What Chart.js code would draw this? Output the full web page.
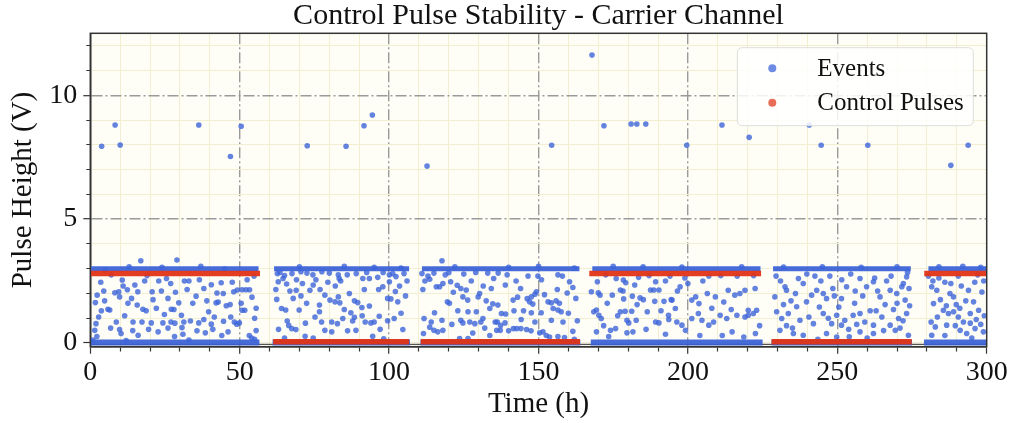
<!DOCTYPE html>
<html>
<head>
<meta charset="utf-8">
<title>Control Pulse Stability - Carrier Channel</title>
<script src="https://cdn.jsdelivr.net/npm/chart.js@4.4.1/dist/chart.umd.min.js"></script>
<style>
  html, body { margin: 0; padding: 0; background: #ffffff; }
  #chart { display: block; }
</style>
</head>
<body>
<canvas id="chart" width="1013" height="423"></canvas>
<script>
// axis ticks
const xTickValues = [0, 10, 20, 30, 40, 50, 60, 70, 80, 90, 100, 110, 120, 130, 140, 150,
  160, 170, 180, 190, 200, 210, 220, 230, 240, 250, 260, 270, 280, 290, 300];
const xLabelTicks = [0, 50, 100, 150, 200, 250, 300];
const yTickValues = [0, 1, 2, 3, 4, 5, 6, 7, 8, 9, 10, 11, 12];
const yLabelTicks = [0, 5, 10];

// control pulse runs: [start h, end h, level V]
const controlRuns = [
  [0.2, 56.8, 2.8], [61.2, 106.7, 0.05], [110.6, 163.9, 0.05],
  [167, 224.5, 2.8], [228, 274.9, 0.05], [279.1, 300, 2.8]
];

// dense event bands (saturated ~3 V and zero-height events): [start h, end h]
const eventTopRuns = [[0.3, 56.3], [61.5, 106.7], [111, 163.7], [168, 224.3], [228.5, 274.6], [280.5, 300]];
const eventZeroRuns = [[0, 56.6], [61, 107], [110.5, 164], [167.5, 225], [228, 275], [279, 300]];
const topLevel = 3.0;
const zeroLevel = 0.02;
const baselineRun = [[0, 300]];
const baselineLevel = -0.06;

// scattered events per run: [time h, height V]
const eventsRun1 = [
  [3.5,2.45],[10.7,2.54],[14.9,2.34],[18.2,2.5],[22.9,2.5],[26.9,2.4],[2.3,1.93],[8.2,2.03],[9.5,2.07],
  [12.4,2.15],[15.9,2.07],[20.7,2.07],[23.8,2.1],[26,1.8],[1.7,1.63],[4.8,1.7],[9.8,1.86],[12.6,1.6],
  [15.7,1.53],[5.9,1.36],[6.5,1.33],[3.7,1.3],[17.6,1.36],[18.7,1.3],[22.1,1.4],[27.1,1.36],[1.9,0.78],
  [8.7,0.85],[14.3,0.85],[17.3,0.85],[20.4,0.81],[24.3,0.81],[27,0.85],[1.5,0.51],[9.8,0.54],[10.3,0.38],
  [16,0.31],[22.7,0.45],[2.2,0.26],[28.2,0.26],[32.4,2.16],[40.5,2.35],[43.8,2.43],[35.4,1.89],[42.4,2.02],
  [48,2.07],[49.2,2.14],[50.8,2.15],[52.1,2.15],[53.3,2.15],[54.1,1.85],[29.6,1.62],[34.3,1.6],[42.1,1.62],
  [42.8,1.65],[50.5,1.6],[28,1.35],[30.5,1.12],[39.6,1.26],[50.8,1.32],[51.7,1.32],[31.3,0.85],[33.5,0.89],
  [36.3,0.81],[40.5,0.76],[44.6,0.88],[48.2,0.85],[49,0.76],[49.9,0.81],[28.3,0.8],[30.7,0.62],[35.7,0.49],
  [38.5,0.41],[46.1,0.45],[53.2,0.3],[54,0.2],[16.9,3.32],[29,3.35],[5,2.95],[13,3.08],[24,3.05],[37,3.1],
  [45,2.98],[0.8,0.12],[12,0.1],[33,0.12],[55,0.15],[24.8,1.15],[11.5,1.1],[45.5,1.5],[47,1.05],[38,2.2],
  [36.5,2.55],[44.5,2.0],[46.8,1.55],[41.5,1.05],[25.5,2.6],[7,2.75],[19,2.72],[33,2.5],[2.8,1.05],
  [6.8,0.6],[19.5,0.55],[26,0.6],[38,0.95],[44,0.3],[13.8,1.8],[55,1.0],[55.5,0.5],
  [4.5,2.1],[11,2.3],[21,1.75],[28.5,2.05],[31.5,2.5],[39,1.7],[47.5,2.45],[52.5,2.55],[54.8,2.7],
  [55.5,1.4],[31,0.35],[41,0.55],[14.2,0.5]
];
const eventsRun2 = [
  [62.9,2.47],[62.1,2.16],[65.7,2.38],[66.8,2.1],[67.9,1.8],[68.9,2.13],[73.5,2.13],[74.6,2.34],[76.9,2.16],
  [78.5,1.93],[80.2,1.73],[83,1.86],[62.4,1.76],[64,1.39],[65.4,1.33],[69.9,1.33],[72.4,1.6],[76.7,1.53],
  [76.7,1.26],[81.9,1.66],[65.9,0.89],[66.4,0.71],[67.4,0.58],[68.8,0.54],[77.4,0.85],[78.5,0.51],[80.8,0.85],
  [80.8,0.45],[82.7,0.78],[71.9,0.27],[74.6,0.2],[65,0.2],[62.6,2.8],[63.5,2.85],[65,2.72],[67.5,2.8],
  [70.5,2.88],[72.5,2.82],[74.5,2.75],[77.5,2.88],[80,2.82],[83,2.75],[83.3,2.6],[91.2,2.6],[93.4,2.6],
  [96.2,2.65],[100.1,2.75],[101.2,2.8],[102.3,2.68],[83.8,2.5],[86.7,2.0],[91.7,2.16],[96.5,2.16],[97.9,2.27],
  [100.1,2.47],[102.1,2.08],[99.5,1.8],[100.6,1.78],[102.9,1.66],[83.5,1.62],[88.4,1.7],[89.5,1.63],[93.4,1.49],
  [90.9,1.43],[84.5,0.99],[87.2,1.22],[88.4,1.04],[87.8,0.89],[92,0.85],[93.9,0.81],[95,0.85],[96.7,1.08],
  [101.7,0.99],[88.9,0.51],[86.1,0.49],[104.6,0.54],[94.5,0.27],[98.2,0.17],[70,3.08],[85,3.1],[95,3.05],[104,3.02],
  [64.5,2.6],[69,2.55],[71,2.4],[75.5,2.55],[79.5,2.45],[82,2.3],[86,2.75],[89,2.8],[92.5,2.85],[98,2.85],
  [105,2.8],[103.5,2.3],[105.5,1.9],[104,1.2],[85,1.35],[91,1.1],[97,0.55],[99.5,0.9],[70.5,1.9],[72,0.8],
  [75.2,1.05],[63,0.55],[106,2.5]
];
const eventsRun3 = [
  [117.7,3.32],[111,2.8],[113,2.7],[115,2.82],[120,2.84],[125,2.78],[129,2.85],[133,2.82],[136.5,2.82],
  [111.3,2.16],[113.6,2.57],[115.8,2.27],[116.9,2.27],[118,2.4],[120.6,2.47],[122.8,2.33],[124,2.2],[125.8,2.14],
  [124.7,1.86],[126.3,1.73],[129.8,1.86],[130.3,2.0],[134.2,2.2],[119.5,1.66],[120.2,1.6],[123,1.3],[126.4,1.26],
  [129.2,1.26],[133.7,1.39],[134.7,1.58],[136.4,1.53],[111.7,0.99],[114.1,0.85],[115.2,1.22],[117.7,0.92],
  [124,0.92],[124.7,0.81],[127,0.85],[128.7,0.78],[130.7,0.85],[131.4,0.99],[135.5,0.85],[137.3,0.71],
  [113.6,0.64],[115,0.51],[116.3,0.45],[118,0.51],[123.6,0.18],[126.4,0.18],[133.7,0.3],[136,0.51],[111.5,0.38],
  [138.9,2.34],[146.5,2.7],[149.8,2.7],[156.5,2.75],[160.4,2.47],[161.5,2.24],[156.3,2.16],[159.6,2.02],
  [149.3,2.07],[148.8,1.97],[147.6,1.86],[146.2,1.79],[147,1.66],[148.1,1.57],[141.5,1.73],[153.2,1.66],
  [154.3,1.62],[155.9,1.7],[157,1.6],[154.9,1.39],[156.5,1.33],[157.6,1.26],[137.6,1.19],[139,1.17],[141.8,1.3],
  [147.6,1.22],[150.9,1.22],[136.2,0.85],[138.8,0.81],[144.2,0.95],[148.8,0.85],[154.3,0.92],[158.2,0.85],
  [137.2,0.51],[140,0.49],[141.6,0.58],[142.7,0.58],[144.1,0.58],[146,0.54],[147.5,0.49],[150.4,0.41],
  [151.5,0.45],[152.6,0.3],[153.7,0.24],[156.5,0.26],[161.5,0.47],[158.7,0.22],[122,3.08],[140,3.05],[150,3.1],[162,3.02],
  [112,2.5],[118.8,2.75],[121.5,2.05],[127.5,2.5],[131.5,2.3],[132.5,1.7],[135,2.6],[139.5,2.75],[142.5,2.5],
  [144,2.2],[151,2.55],[152,1.95],[158,2.7],[162.5,1.8],[160,1.2],[163,0.9],[145,1.3],[143,1.85],[121,0.75],
  [128,0.4],[132,0.6],[162,0.15]
];
const eventsRun4 = [
  [169.7,2.47],[167.7,2.07],[170,2.03],[170.6,1.93],[178.4,2.54],[179.2,2.43],[182.2,2.34],[189.2,2.47],
  [174.7,1.93],[177.4,2.14],[178.3,2.1],[178.5,1.78],[181.4,1.89],[184,1.82],[185.1,1.75],[187.5,2.14],
  [188.6,2.14],[190.3,2.14],[188.9,1.68],[192,1.68],[194.4,1.75],[168.5,1.26],[169.4,1.33],[170.2,1.12],
  [171,0.99],[177.4,1.26],[179,1.28],[181.2,1.28],[179.6,0.92],[180.2,0.81],[182.7,0.92],[186.4,1.26],
  [189.2,0.85],[190.3,0.81],[193.6,0.95],[169.4,0.45],[174.1,0.51],[175.8,0.58],[179.6,0.41],[181.6,0.45],
  [173.5,0.26],[197.4,2.27],[201.3,1.73],[202.6,1.86],[203.7,1.59],[206.5,2.0],[209.2,1.86],[213.5,2.13],
  [215.7,1.93],[217.4,2.0],[219.1,2.13],[223,1.32],[221.9,1.19],[220.2,1.12],[194.7,1.73],[195.8,1.39],
  [193.5,1.12],[196.3,0.85],[198,0.72],[201.3,0.99],[203.5,1.19],[204.7,0.92],[208.6,0.85],[210.8,1.12],
  [213,0.99],[216.4,1.12],[219.1,1.05],[220.2,1.32],[199.2,0.51],[207,0.72],[214.8,0.45],[218.7,0.24],
  [222.6,0.38],[194,2.7],[199,2.62],[207,2.7],[211,2.72],[216.5,2.7],[222,2.72],[175,3.1],[185,3.08],[198,3.06],[218,3.08],
  [172.5,2.75],[176,2.6],[183.5,2.65],[187,2.72],[192.5,2.5],[173,1.6],[176.5,1.1],[183,1.55],[186,0.55],
  [191,1.3],[196.5,2.1],[200,2.4],[205,2.5],[208,1.4],[212,1.65],[214.5,1.35],[222.5,2.2],[224,0.7],
  [211.5,0.3],[204,0.3],[171.8,0.7],[192.5,0.35]
];
const eventsRun5 = [
  [229.1,1.86],[232.5,2.27],[233,2.13],[238.6,2.4],[243.1,2.13],[245.3,2.0],[246.4,1.79],[239.7,1.66],
  [241.4,1.93],[251.4,1.79],[253.1,2.27],[257.6,2.6],[259.8,2.27],[262.1,2.47],[264.3,1.86],[267.7,2.13],
  [269.9,2.0],[271.6,2.27],[273.2,2.67],[272.1,2.4],[272.7,1.73],[229.7,1.26],[231.4,0.99],[233.6,1.19],
  [236.4,1.46],[237.5,0.92],[242,0.78],[245.3,1.19],[248.1,0.78],[249.8,1.12],[251.4,0.72],[252.5,0.92],
  [255.3,1.12],[257.6,1.19],[259.2,0.85],[262.1,0.72],[264.9,1.05],[267.7,0.72],[270.5,0.99],[273.2,1.19],
  [230.8,0.51],[235.3,0.38],[238.6,0.31],[246.4,0.38],[249.8,0.24],[257.6,0.45],[262.1,0.38],[269.4,0.51],
  [273.8,0.31],[229.5,2.7],[239.8,2.78],[242.5,2.7],[247.5,2.7],[254.5,2.78],[262.5,2.62],[268,2.7],[273.5,2.85],
  [234.5,1.7],[244,1.45],[248.5,2.2],[250.5,1.45],[255.8,1.6],[258.5,1.9],[261,1.3],[266,1.55],[268.8,1.35],
  [233,0.7],[240.5,1.05],[253.8,0.55],[265.5,0.5],[271,0.6],[243.5,0.15],[254,0.25],[260,0.2],
  [232,3.06],[245,3.08],[258,3.05],[270,3.08],
  [231,2.5],[236,2.0],[237,2.6],[244.5,2.5],[249,1.9],[251.5,2.55],[256,2.1],[263.5,2.1],[266.5,2.5],
  [270,1.6],[274,2.2],[274.2,1.5],[232,1.55],[235,0.6],[247,1.0],[256.5,0.75],[263,1.3],[272,0.9]
];
const eventsRun6 = [
  [281.6,2.27],[283.3,2.13],[287.7,2.0],[288.9,1.86],[293.9,2.13],[295.6,1.66],[298.4,2.06],[282.2,1.59],
  [285.5,1.32],[287.2,1.19],[288.9,1.26],[290.5,1.05],[292.2,0.85],[294.5,1.19],[297.3,1.32],[281.4,0.85],
  [282.8,0.65],[286.6,0.72],[291.1,0.51],[293.3,0.38],[296.1,0.58],[298.9,0.45],[281.6,0.31],[280.5,2.7],
  [284,2.62],[290.5,2.7],[297,2.75],[284.5,1.75],[289.8,1.55],[291.5,2.3],[296.5,0.95],[299.2,1.1],[286,0.3],
  [295,0.2],[284,3.08],[292,3.1],[298,3.05],
  [282,2.5],[286,2.45],[288,2.4],[293,1.7],[296,2.45],[299,2.5],[283.5,1.05],[286.5,1.5],[291,1.4],
  [298,0.75],[289.5,0.7],[294.5,0.8]
];
// high outliers
const eventsHigh = [
  [3.8,7.94],[8.3,8.8],[10,7.99],[36.3,8.8],[46.9,7.53],[50.5,8.75],[72.6,7.96],[85.6,7.94],[91.6,8.77],
  [94.4,9.2],[112.7,7.14],[154.4,7.98],[167.9,11.62],[171.9,8.77],[181,8.84],[182.9,8.84],[185.9,8.84],
  [199.6,7.98],[211.4,8.8],[220.5,8.3],[240.6,8.8],[244.6,7.98],[260.2,7.98],[288,7.17],[293.8,7.98]
];

const BLUE = 'rgba(60, 100, 218, 0.8)';
const BLUE_BAND = 'rgba(55, 95, 215, 0.92)';
const RED = 'rgba(226, 52, 22, 0.95)';
const FONT = '"Liberation Serif", "Times New Roman", serif';

function toPoints(pairs) {
  return pairs.map(([x, y]) => ({ x: x, y: y }));
}

// turn runs into one line with breaks between runs
function runsToLine(runs, level) {
  const pts = [];
  runs.forEach((run, i) => {
    const y = run.length > 2 ? run[2] : level;
    if (i > 0) pts.push({ x: run[0], y: null });
    pts.push({ x: run[0], y: y }, { x: run[1], y: y });
  });
  return pts;
}

function isMajorX(v) { return v > 0 && v < 300 && v % 50 === 0; }
function isMajorY(v) { return v === 5 || v === 10; }

const plotFrame = {
  id: 'plotFrame',
  beforeDraw(chart) {
    const { ctx, chartArea: a } = chart;
    ctx.save();
    ctx.fillStyle = '#fffef6';
    ctx.fillRect(a.left, a.top, a.right - a.left, a.bottom - a.top);
    ctx.restore();
  },
  afterDatasetsDraw(chart) {
    const { ctx, chartArea: a } = chart;
    ctx.save();
    ctx.strokeStyle = '#333333';
    ctx.lineWidth = 1.5;
    ctx.strokeRect(a.left, a.top, a.right - a.left, a.bottom - a.top);
    ctx.restore();
  }
};

// legend drawn inside the plot, upper right
const insideLegend = {
  id: 'insideLegend',
  afterDraw(chart) {
    const { ctx, chartArea: a } = chart;
    const items = chart.data.datasets.filter(d => d.inLegend);
    const w = 236, h = 78;
    const x0 = a.right - 13.4 - w, y0 = a.top + 14.4;
    ctx.save();
    ctx.beginPath();
    ctx.roundRect(x0, y0, w, h, 5);
    ctx.fillStyle = 'rgba(255,255,255,0.85)';
    ctx.fill();
    ctx.strokeStyle = '#dddddd';
    ctx.lineWidth = 1;
    ctx.stroke();
    ctx.font = '25px ' + FONT;
    ctx.textBaseline = 'middle';
    ctx.textAlign = 'left';
    items.forEach((d, i) => {
      const cy = y0 + 20.6 + i * 34.4;
      ctx.beginPath();
      ctx.arc(x0 + 35, cy, 4, 0, Math.PI * 2);
      ctx.fillStyle = d.legendColor;
      ctx.fill();
      ctx.fillStyle = '#111111';
      ctx.fillText(d.label, x0 + 80, cy + 1);
    });
    ctx.restore();
  }
};

const allEvents = [].concat(eventsRun1, eventsRun2, eventsRun3, eventsRun4, eventsRun5, eventsRun6, eventsHigh);

const config = {
  type: 'scatter',
  data: {
    datasets: [
      {
        label: 'baseline',
        data: runsToLine(baselineRun, baselineLevel),
        showLine: true,
        borderColor: '#555555',
        borderWidth: 1.2,
        pointRadius: 0,
        spanGaps: false,
        order: 8
      },
      {
        label: 'event bands',
        data: runsToLine(eventTopRuns, topLevel),
        showLine: true,
        borderColor: BLUE_BAND,
        borderWidth: 5,
        borderCapStyle: 'butt',
        pointRadius: 0,
        spanGaps: false,
        order: 6
      },
      {
        label: 'zero events',
        data: runsToLine(eventZeroRuns, zeroLevel),
        showLine: true,
        borderColor: BLUE_BAND,
        borderWidth: 6,
        borderCapStyle: 'butt',
        pointRadius: 0,
        spanGaps: false,
        order: 6
      },
      {
        label: 'Events',
        inLegend: true,
        legendColor: 'rgba(60, 100, 218, 0.75)',
        data: toPoints(allEvents),
        backgroundColor: BLUE,
        borderWidth: 0,
        pointRadius: 2.8,
        order: 4
      },
      {
        label: 'Control Pulses',
        inLegend: true,
        legendColor: 'rgba(226, 60, 30, 0.75)',
        data: runsToLine(controlRuns),
        showLine: true,
        borderColor: RED,
        borderWidth: 5.5,
        borderCapStyle: 'butt',
        pointRadius: 0,
        spanGaps: false,
        order: 1
      }
    ]
  },
  options: {
    responsive: false,
    animation: false,
    devicePixelRatio: 1,
    layout: { padding: { left: 0, right: 26.3, top: 0, bottom: 0 } },
    plugins: {
      legend: { display: false },
      tooltip: { enabled: false },
      title: {
        display: true,
        text: 'Control Pulse Stability - Carrier Channel',
        fullSize: false,
        color: '#111111',
        font: { family: FONT, size: 30, weight: 'normal', lineHeight: 1.0 },
        padding: { top: 1.5, bottom: 1.8 }
      }
    },
    scales: {
      x: {
        type: 'linear',
        min: 0,
        max: 300,
        afterBuildTicks: scale => { scale.ticks = xTickValues.map(v => ({ value: v })); },
        afterFit: scale => { scale.height = 76.3; },
        ticks: {
          autoSkip: false,
          maxRotation: 0,
          padding: 2,
          color: '#111111',
          font: { family: FONT, size: 28 },
          callback: value => xLabelTicks.includes(value) ? String(value) : ''
        },
        grid: {
          color: ctx => (ctx.tick && isMajorX(ctx.tick.value)) ? '#9a9a9a' : '#f1eed2',
          lineWidth: ctx => (ctx.tick && isMajorX(ctx.tick.value)) ? 1.4 : 1,
          tickLength: 7,
          tickColor: '#333333',
          tickWidth: 1.2,
          tickBorderDash: ctx => (ctx.tick && xLabelTicks.includes(ctx.tick.value)) ? [] : [4, 20]
        },
        border: {
          color: '#333333',
          width: 1.5,
          dash: ctx => (ctx.tick && isMajorX(ctx.tick.value)) ? [11, 3, 2, 3] : []
        },
        title: {
          display: true,
          text: 'Time (h)',
          color: '#111111',
          font: { family: FONT, size: 29 },
          padding: { top: 0, bottom: 1 }
        }
      },
      y: {
        type: 'linear',
        min: -0.15,
        max: 12.5,
        afterBuildTicks: scale => { scale.ticks = yTickValues.map(v => ({ value: v })); },
        afterFit: scale => { scale.width = 90.3; },
        ticks: {
          autoSkip: false,
          padding: 6,
          color: '#111111',
          font: { family: FONT, size: 28 },
          callback: value => yLabelTicks.includes(value) ? String(value) : ''
        },
        grid: {
          color: ctx => (ctx.tick && isMajorY(ctx.tick.value)) ? '#9a9a9a' : '#f1eed2',
          lineWidth: ctx => (ctx.tick && isMajorY(ctx.tick.value)) ? 1.4 : 1,
          tickLength: 7,
          tickColor: '#333333',
          tickWidth: 1.2,
          tickBorderDash: ctx => (ctx.tick && yLabelTicks.includes(ctx.tick.value)) ? [] : [0, 3, 4, 20]
        },
        border: {
          color: '#333333',
          width: 1.5,
          dash: ctx => (ctx.tick && isMajorY(ctx.tick.value)) ? [11, 3, 2, 3] : []
        },
        title: {
          display: true,
          text: 'Pulse Height (V)',
          color: '#111111',
          font: { family: FONT, size: 29 },
          padding: { top: 6, bottom: 0 }
        }
      }
    }
  },
  plugins: [plotFrame, insideLegend]
};

new Chart(document.getElementById('chart'), config);
</script>
</body>
</html>
